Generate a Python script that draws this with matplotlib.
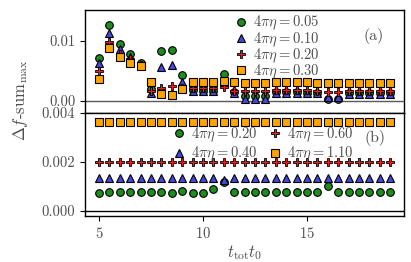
import matplotlib
matplotlib.use("Agg")
import matplotlib.pyplot as plt
import numpy as np

plt.rcParams['font.family'] = 'serif'
plt.rcParams['font.serif'] = ['cmr10']
plt.rcParams['mathtext.fontset'] = 'cm'
plt.rcParams['axes.formatter.use_mathtext'] = True

# time axis
t = np.arange(5, 19.01, 0.5)

# panel (a)
labels_a = [r'$4\pi\eta = 0.05$', r'$4\pi\eta = 0.10$', r'$4\pi\eta = 0.20$', r'$4\pi\eta = 0.30$']
a_005 = [0.0072, 0.0127, 0.0096, 0.0078, 0.0064, 0.0020, 0.0084, 0.0086, 0.0043, 0.0018,
         0.0016, 0.0016, 0.0045, 0.0015, 0.0008, 0.0008, 0.0008, 0.0015, 0.0015, 0.0015,
         0.0014, 0.0014, 0.0004, 0.0004, 0.0013, 0.0013, 0.0013, 0.0013, 0.0013]
a_010 = [0.0064, 0.0113, 0.0087, 0.0073, 0.0060, 0.0013, 0.0057, 0.0060, 0.0031, 0.0016,
         0.0016, 0.0016, 0.0032, 0.0014, 0.0004, 0.0004, 0.0004, 0.0013, 0.0013, 0.0013,
         0.0013, 0.0013, 0.0007, 0.0007, 0.0012, 0.0012, 0.0012, 0.0012, 0.0012]
a_020 = [0.0050, 0.0098, 0.0079, 0.0071, 0.0060, 0.0016, 0.0022, 0.0025, 0.0021, 0.0021,
         0.0021, 0.0021, 0.0024, 0.0017, 0.0017, 0.0017, 0.0017, 0.0019, 0.0019, 0.0019,
         0.0019, 0.0017, 0.0015, 0.0015, 0.0017, 0.0017, 0.0017, 0.0017, 0.0017]
a_030 = [0.0037, 0.0089, 0.0074, 0.0064, 0.0059, 0.0032, 0.0011, 0.0010, 0.0020, 0.0032,
         0.0032, 0.0032, 0.0034, 0.0032, 0.0030, 0.0030, 0.0030, 0.0031, 0.0031, 0.0031,
         0.0031, 0.0030, 0.0030, 0.0030, 0.0030, 0.0030, 0.0030, 0.0030, 0.0030]

# panel (b)
labels_b = [r'$4\pi\eta = 0.20$', r'$4\pi\eta = 0.40$', r'$4\pi\eta = 0.60$', r'$4\pi\eta = 1.10$']
b_020 = [0.00074, 0.00078, 0.00078, 0.00077, 0.00077, 0.00078, 0.00078, 0.00074, 0.00081, 0.00075,
         0.00072, 0.00090, 0.00119, 0.00077, 0.00077, 0.00077, 0.00077, 0.00077, 0.00077, 0.00077,
         0.00077, 0.00077, 0.00103, 0.00077, 0.00077, 0.00077, 0.00077, 0.00077, 0.00077]
b_040 = [0.00135, 0.00135, 0.00135, 0.00135, 0.00135, 0.00135, 0.00135, 0.00135, 0.00135, 0.00135,
         0.00135, 0.00135, 0.00128, 0.00135, 0.00135, 0.00135, 0.00135, 0.00135, 0.00135, 0.00135,
         0.00135, 0.00135, 0.00135, 0.00135, 0.00135, 0.00135, 0.00135, 0.00135, 0.00135]
b_060 = [0.00202] * 29
b_110 = [0.00365] * 29

colors = ['#1e8c1e', '#4646dc', '#ee1c1c', '#ffa500']
markers = ['o', '^', 'P', 's']
sizes = [5.5, 5.5, 6, 6]
edges = [0.8, 0.8, 0.6, 0.8]

fig = plt.figure(figsize=(4.11, 2.62), dpi=100)
ax1 = fig.add_axes([85/411, 1-113/262, 319/411, 103/262])
ax2 = fig.add_axes([85/411, 1-216/262, 319/411, 103/262])

for ys, lab, c, m, s, e in zip([a_005, a_010, a_020, a_030], labels_a, colors, markers, sizes, edges):
    ax1.plot(t, ys, ls='none', marker=m, ms=s, mfc=c, mec='k', mew=e, label=lab)
for ys, lab, c, m, s, e in zip([b_020, b_040, b_060, b_110], labels_b, colors, markers, sizes, edges):
    ax2.plot(t, ys, ls='none', marker=m, ms=s, mfc=c, mec='k', mew=e, label=lab)

ax1.axhline(0, color='0.35', lw=1.0, zorder=0)
ax2.axhline(0, color='k', lw=1.0, zorder=0)

for ax in (ax1, ax2):
    ax.set_xlim(4.33, 19.66)
    ax.tick_params(direction='out', length=3.5, width=0.8, labelsize=10.5, colors='0.3')
    ax.tick_params(axis='both', color='k')
    for sp in ax.spines.values():
        sp.set_linewidth(1.0)

ax1.set_ylim(-0.002, 0.0152)
ax1.set_yticks([0.0, 0.01])
ax1.set_yticklabels(['0.00', '0.01'])
ax1.set_xticks([])

ax2.set_ylim(-0.0002, 0.004)
ax2.set_yticks([0.0, 0.002, 0.004])
ax2.set_yticklabels(['0.000', '0.002', '0.004'])
ax2.set_xticks([5, 10, 15])

leg1 = ax1.legend(loc='upper left', bbox_to_anchor=(0.435, 1.06), frameon=False, fontsize=10.5,
                  handlelength=1.0, handletextpad=0.3, labelspacing=-0.15, borderpad=0.2)
leg2 = ax2.legend(loc='upper left', bbox_to_anchor=(0.24, 0.975), frameon=False, fontsize=10.5, ncol=2,
                  handlelength=1.0, handletextpad=0.3, labelspacing=0.05, columnspacing=0.7, borderpad=0.2)
for leg in (leg1, leg2):
    for txt in leg.get_texts():
        txt.set_color('0.3')

ax1.text(0.906, 0.748, '(a)', transform=ax1.transAxes, ha='center', va='center', fontsize=11.5, color='0.3')
ax2.text(0.909, 0.757, '(b)', transform=ax2.transAxes, ha='center', va='center', fontsize=11.5, color='0.3')

ax2.set_xlabel(r'$t_{\rm tot} t_0$', fontsize=12, color='0.3', labelpad=2)
fig.text(0.05, 1-100/262, r'$\Delta f$-sum$_{\rm max}$', rotation=90, ha='center', va='center',
         fontsize=12, color='0.3')

fig.savefig('out.png', dpi=100)
